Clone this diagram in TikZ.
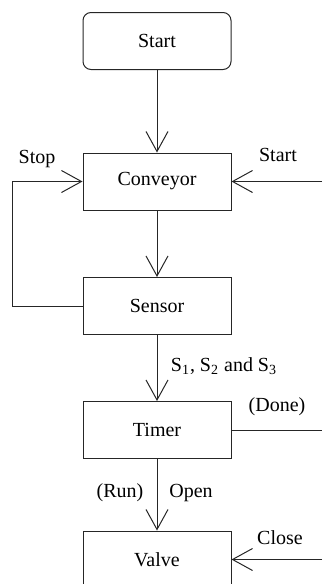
\documentclass[tikz,border=0pt]{standalone}
\usepackage{fontspec}
\setmainfont{Liberation Serif}
\usetikzlibrary{arrows.meta}
\begin{document}
\begin{tikzpicture}[x=0.5pt, y=-0.5pt, line width=0.5pt, draw=black!85, >={Straight Barb[length=10pt,width=11pt]},
main node/.style={rectangle,draw=black!85,minimum width=74pt,minimum height=28.5pt,inner sep=0pt,font=\fontsize{10}{12}\selectfont},
lbl/.style={font=\fontsize{10}{12}\selectfont,inner sep=0pt}]
\useasboundingbox (0,0) rectangle (322,584);
\clip (0,0) rectangle (322,584);
\begin{scope}
\node[main node,rounded corners=4pt] (start) at (157,41) {Start};
\node[main node] (conv) at (157,181.5) {Conveyor};
\node[main node] (sensor) at (157,306) {Sensor};
\node[main node] (timer) at (157,430) {Timer};
\node[main node] (valve) at (157,559.5) {Valve};
\coordinate (lc) at (12,181.5);
\coordinate (ls) at (12,306);
\coordinate (rs) at (322,181.5);
\coordinate (rd) at (322,430);
\coordinate (rc) at (322,559.5);
\end{scope}
\begin{scope}[every edge/.style={draw=black!85,line width=0.5pt}]
\draw[->] (start) edge (conv);
\draw[->] (conv) edge (sensor);
\draw[->] (sensor) edge (timer);
\draw[->] (timer) edge (valve);
\draw[->,draw=black!85] (sensor.west) -- (ls) -- (lc) -- (conv.west);
\draw[->,draw=black!85] (rs) -- (conv.east);
\draw[draw=black!85] (timer.east) -- (rd);
\draw[->,draw=black!85] (rc) -- (valve.east);
\end{scope}
\begin{scope}[every node/.style={lbl}]
\node (stop) at (37,159) {Stop};
\node (start2) at (278,155) {Start};
\node (sig) at (224,366) {S\textsubscript{1}, S\textsubscript{2} and S\textsubscript{3}};
\node (done) at (277,407) {(Done)};
\node (run) at (120,493) {(Run)};
\node (open) at (191,493) {Open};
\node (close) at (280,538) {Close};
\end{scope}
\end{tikzpicture}
\end{document}
